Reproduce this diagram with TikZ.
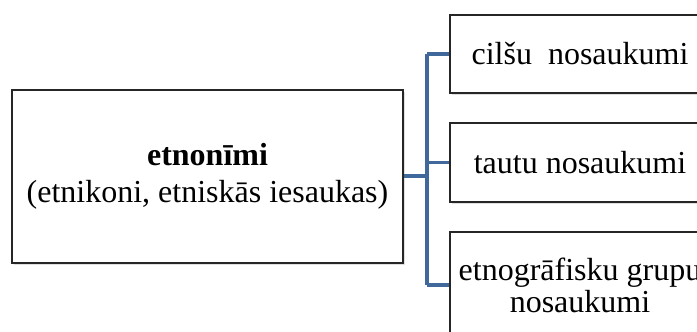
\documentclass[tikz,border=0pt]{standalone}
\usepackage{fontspec}
\setmainfont{Liberation Serif}
\usetikzlibrary{shadows}
\definecolor{linkblue}{HTML}{41689A}
\definecolor{boxline}{HTML}{262626}
\tikzset{
  box/.style={draw=boxline, line width=2pt, fill=white, inner sep=0pt, align=center,
    font=\fontsize{32}{36}\selectfont,
    drop shadow={opacity=0.25, shadow xshift=2pt, shadow yshift=-2pt}},
  link/.style={draw=linkblue, line width=3.5pt}
}
\begin{document}
\begin{tikzpicture}[x=1pt,y=-1pt]
\useasboundingbox (0,0) rectangle (697,332);
\begin{scope}
\clip (0,0) rectangle (697,332);
\node[box, minimum width=391pt, minimum height=173pt, font=\fontsize{32}{37}\selectfont] (main) at (207.5,176.5)
  {\textbf{etnonīmi}\\(etnikoni, etniskās iesaukas)};
\node[box, minimum width=260pt, minimum height=78pt] (b1) at (580,54) {cilšu\ \ nosaukumi};
\node[box, minimum width=260pt, minimum height=79pt] (b2) at (580,162.5) {tautu nosaukumi};
\node[box, minimum width=260pt, minimum height=106pt, font=\fontsize{32}{32}\selectfont] (b3) at (580,285) {etnogrāfisku grupu\\nosaukumi};
\coordinate (j) at (427,176);
\draw[link] (main.east |- j) -- (j);
\draw[link] (j |- b1.west) -- (j |- b3.west);
\draw[link] (j |- b1.west) -- (b1.west);
\draw[link] (j |- b2.west) -- (b2.west);
\draw[link] (j |- b3.west) -- (b3.west);
\end{scope}
\end{tikzpicture}
\end{document}
